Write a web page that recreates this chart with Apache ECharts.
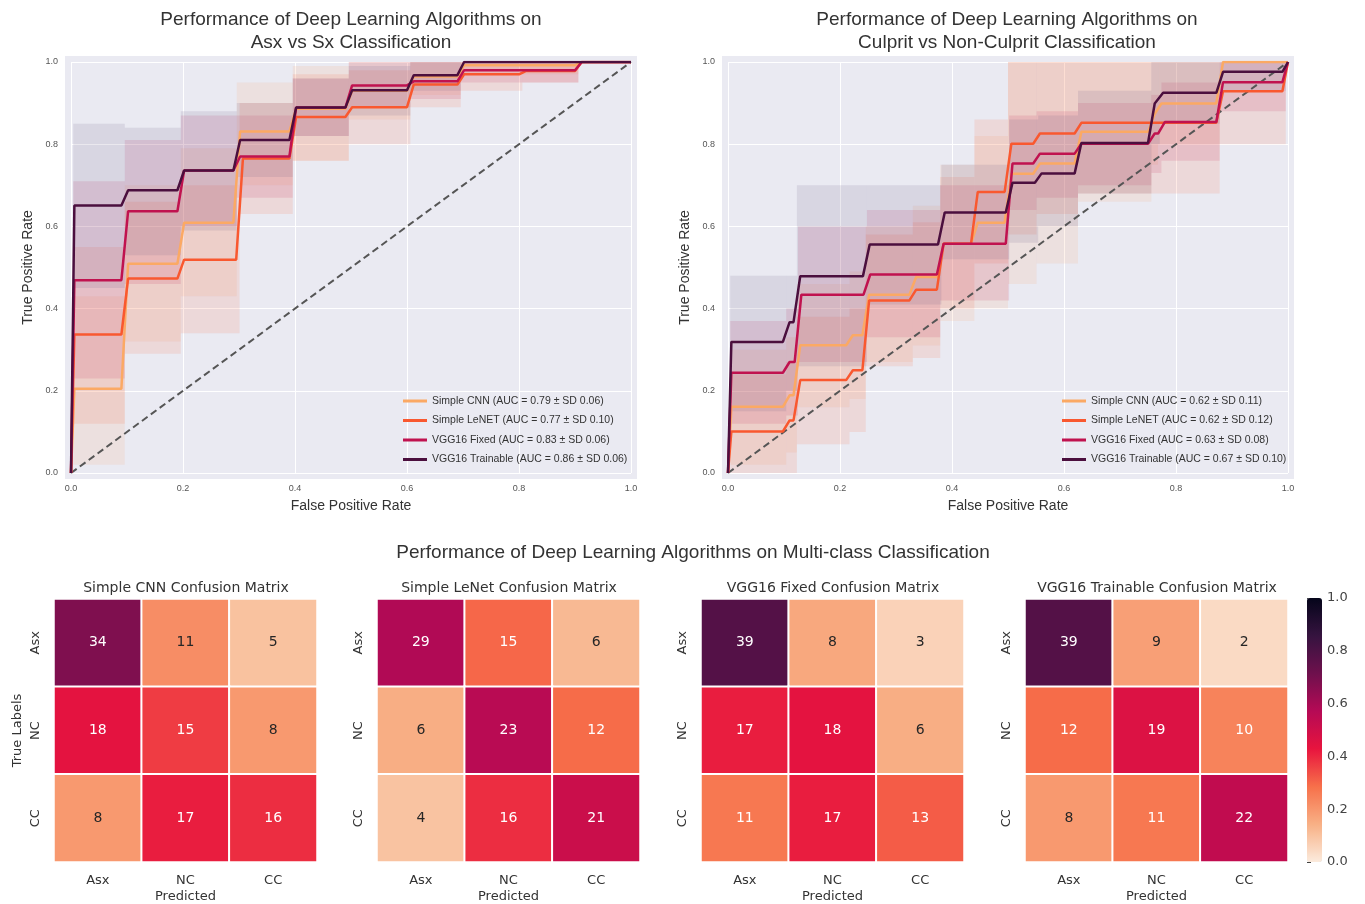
<!DOCTYPE html>
<html>
<head>
<meta charset="utf-8">
<title>Performance of Deep Learning Algorithms</title>
<script src="https://cdn.jsdelivr.net/npm/echarts/dist/echarts.min.js"></script>
<style>
  body { margin: 0; background: #fff; }
  #chart { width: 1365px; height: 904px; }
</style>
</head>
<body>
<div id="chart"></div>
<script>
// ROC curves, Asx vs Sx (step rises at x, level before/after each rise, band low/high per level)
const asxCnnRise = [0.09, 0.19, 0.29, 0.39, 0.49, 0.6, 0.69, 0.9]
const asxCnnLevel = [0.205, 0.509, 0.609, 0.831, 0.886, 0.93, 0.965, 0.992, 1.0]
const asxCnnLo = [0.02, 0.32, 0.43, 0.70, 0.76, 0.86, 0.92, 0.97, 1.0]
const asxCnnHi = [0.43, 0.70, 0.79, 0.95, 0.99, 1.0, 1.0, 1.0, 1.0]

const asxLenetRise = [0.09, 0.19, 0.295, 0.39, 0.49, 0.6, 0.69, 0.8, 0.9]
const asxLenetLevel = [0.337, 0.473, 0.519, 0.765, 0.866, 0.89, 0.945, 0.97, 0.978, 1.0]
const asxLenetLo = [0.12, 0.29, 0.34, 0.63, 0.76, 0.80, 0.89, 0.93, 0.95, 1.0]
const asxLenetHi = [0.55, 0.66, 0.70, 0.90, 0.97, 0.98, 1.0, 1.0, 1.0, 1.0]

const asxFixedRise = [0.09, 0.19, 0.29, 0.39, 0.49, 0.6, 0.69, 0.9]
const asxFixedLevel = [0.469, 0.637, 0.736, 0.77, 0.889, 0.943, 0.953, 0.98, 1.0]
const asxFixedLo = [0.23, 0.46, 0.60, 0.67, 0.82, 0.89, 0.91, 0.95, 1.0]
const asxFixedHi = [0.71, 0.81, 0.87, 0.87, 0.96, 1.0, 1.0, 1.0, 1.0]

const asxTrainRise = [0.09, 0.19, 0.29, 0.39, 0.49, 0.6, 0.69]
const asxTrainLevel = [0.651, 0.688, 0.736, 0.81, 0.889, 0.931, 0.968, 1.0]
const asxTrainLo = [0.45, 0.53, 0.59, 0.72, 0.82, 0.87, 0.93, 1.0]
const asxTrainHi = [0.85, 0.84, 0.88, 0.90, 0.96, 0.99, 1.0, 1.0]

// ROC curves, Culprit vs Non-Culprit
const culCnnRise = [0.098, 0.117, 0.211, 0.24, 0.324, 0.373, 0.434, 0.494, 0.545, 0.619, 0.75, 0.762, 0.872]
const culCnnLevel = [0.161, 0.189, 0.311, 0.335, 0.434, 0.477, 0.558, 0.609, 0.728, 0.753, 0.83, 0.874, 0.899, 1.0]
const culCnnLo = [0.02, 0.05, 0.16, 0.18, 0.27, 0.31, 0.37, 0.40, 0.46, 0.51, 0.66, 0.75, 0.80, 1.0]
const culCnnHi = [0.30, 0.33, 0.46, 0.49, 0.60, 0.65, 0.75, 0.82, 1.0, 1.0, 1.0, 1.0, 1.0, 1.0]

const culLenetRise = [0.098, 0.117, 0.211, 0.24, 0.324, 0.373, 0.434, 0.494, 0.545, 0.619, 0.872, 0.99]
const culLenetLevel = [0.101, 0.128, 0.226, 0.25, 0.42, 0.446, 0.558, 0.684, 0.801, 0.826, 0.852, 0.929, 1.0]
const culLenetLo = [0.0, 0.0, 0.07, 0.10, 0.26, 0.28, 0.40, 0.51, 0.58, 0.63, 0.68, 0.80, 1.0]
const culLenetHi = [0.24, 0.27, 0.38, 0.40, 0.58, 0.61, 0.72, 0.86, 1.0, 1.0, 1.0, 1.0, 1.0]

const culFixedRise = [0.098, 0.119, 0.242, 0.373, 0.496, 0.545, 0.619, 0.75, 0.768, 0.872, 0.99]
const culFixedLevel = [0.244, 0.27, 0.434, 0.483, 0.558, 0.753, 0.777, 0.801, 0.826, 0.854, 0.951, 1.0]
const culFixedLo = [0.12, 0.14, 0.27, 0.33, 0.42, 0.64, 0.67, 0.70, 0.73, 0.76, 0.88, 1.0]
const culFixedHi = [0.37, 0.40, 0.60, 0.64, 0.70, 0.87, 0.88, 0.90, 0.92, 0.95, 1.0, 1.0]

const culTrainRise = [0.098, 0.117, 0.241, 0.375, 0.496, 0.548, 0.619, 0.75, 0.765, 0.872, 0.99]
const culTrainLevel = [0.319, 0.367, 0.479, 0.556, 0.634, 0.706, 0.729, 0.803, 0.899, 0.925, 0.976, 1.0]
const culTrainLo = [0.15, 0.20, 0.26, 0.41, 0.52, 0.56, 0.60, 0.68, 0.80, 0.85, 0.93, 1.0]
const culTrainHi = [0.48, 0.48, 0.70, 0.70, 0.75, 0.86, 0.87, 0.93, 1.0, 1.0, 1.0, 1.0]

const asxLegend = [
  'Simple CNN (AUC = 0.79 ± SD 0.06)',
  'Simple LeNET (AUC = 0.77 ± SD 0.10)',
  'VGG16 Fixed (AUC = 0.83 ± SD 0.06)',
  'VGG16 Trainable (AUC = 0.86 ± SD 0.06)'
]
const culLegend = [
  'Simple CNN (AUC = 0.62 ± SD 0.11)',
  'Simple LeNET (AUC = 0.62 ± SD 0.12)',
  'VGG16 Fixed (AUC = 0.63 ± SD 0.08)',
  'VGG16 Trainable (AUC = 0.67 ± SD 0.10)'
]

// confusion matrices (rows = true label, cols = predicted)
const classLabels = ['Asx', 'NC', 'CC']
const matrixTitles = ['Simple CNN Confusion Matrix', 'Simple LeNet Confusion Matrix', 'VGG16 Fixed Confusion Matrix', 'VGG16 Trainable Confusion Matrix']
const cmCnn = [[34, 11, 5], [18, 15, 8], [8, 17, 16]]
const cmLenet = [[29, 15, 6], [6, 23, 12], [4, 16, 21]]
const cmFixed = [[39, 8, 3], [17, 18, 6], [11, 17, 13]]
const cmTrain = [[39, 9, 2], [12, 19, 10], [8, 11, 22]]

const lineColors = ['#fba964', '#f9582f', '#c0124f', '#4b0f3e']
const bandColors = ['#f9a070', '#f56848', '#c8285a', '#6a5a86']
const rocketR = ['#fbebdd', '#f8b085', '#f7704a', '#e8143e', '#b50a55', '#6e104d', '#35133f', '#05051a']
const sansRoc = '"Liberation Sans", Arial, sans-serif'
const sansHm = '"DejaVu Sans", sans-serif'

let myChart = echarts.init(document.getElementById('chart'))

function stepPoints(rise, level) {
  let pts = [[0, 0], [0.006, level[0]]]
  rise.forEach((r, i) => {
    pts.push([r, level[i]])
    pts.push([Math.min(1, r + 0.012), level[i + 1]])
  })
  pts.push([1, level[level.length - 1]])
  return pts
}

function bandRects(rise, lo, hi) {
  let edges = [0.004].concat(rise.map(r => Math.min(1, r + 0.006))).concat([1])
  return lo.map((l, i) => [edges[i], edges[i + 1], l, hi[i]])
}

let series = []

// heatmaps first (visualMap uses series 0-3)
;[cmCnn, cmLenet, cmFixed, cmTrain].forEach((m, k) => {
  let data = []
  m.forEach((row, r) => {
    let total = row.reduce((a, b) => a + b, 0)
    row.forEach((v, c) => {
      let frac = v / total
      data.push({ value: [c, r, frac, v], label: { color: frac > 0.23 ? '#ffffff' : '#262626' } })
    })
  })
  series.push({
    type: 'heatmap',
    xAxisIndex: 2 + k,
    yAxisIndex: 2 + k,
    data: data,
    itemStyle: { borderColor: '#fff', borderWidth: 2 },
    label: { show: true, formatter: p => p.value[3], fontSize: 14, fontFamily: sansHm },
    emphasis: { disabled: true }
  })
})

function addRoc(g, names, defs) {
  defs.forEach((d, i) => {
    series.push({
      type: 'custom',
      name: 'band' + g + i,
      xAxisIndex: g,
      yAxisIndex: g,
      silent: true,
      z: 1,
      encode: { x: [0, 1], y: [2, 3] },
      data: bandRects(d[0], d[2], d[3]),
      renderItem: (params, api) => {
        let a = api.coord([api.value(0), api.value(3)])
        let b = api.coord([api.value(1), api.value(2)])
        return {
          type: 'rect',
          shape: { x: a[0], y: a[1], width: b[0] - a[0], height: b[1] - a[1] },
          style: { fill: bandColors[i], opacity: 0.14 }
        }
      }
    })
  })
  // chance line
  series.push({
    type: 'line',
    name: 'chance' + g,
    xAxisIndex: g,
    yAxisIndex: g,
    data: [[0, 0], [1, 1]],
    symbol: 'none',
    silent: true,
    z: 2,
    lineStyle: { color: '#555', width: 2, type: [7, 4] }
  })
  defs.forEach((d, i) => {
    series.push({
      type: 'line',
      name: names[i],
      xAxisIndex: g,
      yAxisIndex: g,
      data: stepPoints(d[0], d[1]),
      symbol: 'none',
      z: 3 + i,
      color: lineColors[i],
      lineStyle: { color: lineColors[i], width: 2.5 }
    })
  })
}

addRoc(0, asxLegend, [
  [asxCnnRise, asxCnnLevel, asxCnnLo, asxCnnHi],
  [asxLenetRise, asxLenetLevel, asxLenetLo, asxLenetHi],
  [asxFixedRise, asxFixedLevel, asxFixedLo, asxFixedHi],
  [asxTrainRise, asxTrainLevel, asxTrainLo, asxTrainHi]
])
addRoc(1, culLegend, [
  [culCnnRise, culCnnLevel, culCnnLo, culCnnHi],
  [culLenetRise, culLenetLevel, culLenetLo, culLenetHi],
  [culFixedRise, culFixedLevel, culFixedLo, culFixedHi],
  [culTrainRise, culTrainLevel, culTrainLo, culTrainHi]
])

// grids: 0,1 roc; 2-5 heatmaps; 6 colorbar axis
const hmLeft = [54, 377, 701, 1025]
let grids = [
  { left: 71, top: 62, width: 560, height: 411 },
  { left: 728, top: 62, width: 560, height: 411 }
]
hmLeft.forEach(l => grids.push({ left: l, top: 599, width: 263, height: 263 }))
grids.push({ left: 1307, top: 598, width: 15, height: 264 })
grids.forEach(g => { g.outerBoundsMode = 'none' })

let xAxes = []
let yAxes = []
;[0, 1].forEach(g => {
  xAxes.push({
    gridIndex: g, type: 'value', min: 0, max: 1, interval: 0.2,
    name: 'False Positive Rate', nameLocation: 'middle', nameGap: 26,
    nameTextStyle: { fontSize: 14, color: '#333', fontFamily: sansRoc },
    axisLine: { show: false }, axisTick: { show: false },
    axisLabel: { fontSize: 9, color: '#555', margin: 11, fontFamily: sansRoc, formatter: v => v.toFixed(1) },
    splitLine: { lineStyle: { color: '#fff', width: 1 } }
  })
  yAxes.push({
    gridIndex: g, type: 'value', min: 0, max: 1, interval: 0.2,
    name: 'True Positive Rate', nameLocation: 'middle', nameGap: 36,
    nameTextStyle: { fontSize: 14, color: '#333', fontFamily: sansRoc },
    axisLine: { show: false }, axisTick: { show: false },
    axisLabel: { fontSize: 9, color: '#555', margin: 13, fontFamily: sansRoc, formatter: v => v.toFixed(1) },
    splitLine: { lineStyle: { color: '#fff', width: 1 } }
  })
})
hmLeft.forEach((l, k) => {
  xAxes.push({
    gridIndex: 2 + k, type: 'category', data: classLabels,
    name: 'Predicted', nameLocation: 'middle', nameGap: 28,
    nameTextStyle: { fontSize: 13, color: '#333', fontFamily: sansHm },
    axisLine: { show: false }, axisTick: { show: false }, splitLine: { show: false },
    axisLabel: { fontSize: 13, color: '#333', margin: 12, fontFamily: sansHm }
  })
  yAxes.push({
    gridIndex: 2 + k, type: 'category', data: classLabels, inverse: true,
    name: k === 0 ? 'True Labels' : '', nameLocation: 'middle', nameGap: 30,
    nameTextStyle: { fontSize: 13, color: '#333', fontFamily: sansHm },
    axisLine: { show: false }, axisTick: { show: false }, splitLine: { show: false },
    axisLabel: { fontSize: 13, color: '#333', margin: 12, rotate: 90, fontFamily: sansHm }
  })
})
xAxes.push({ gridIndex: 6, type: 'value', show: false, min: 0, max: 1 })
yAxes.push({
  gridIndex: 6, type: 'value', min: 0, max: 1, interval: 0.2, position: 'right',
  axisLine: { show: false }, splitLine: { show: false },
  axisTick: { show: true, length: 4, lineStyle: { color: '#444' } },
  axisLabel: { fontSize: 13, color: '#444', margin: 5, fontFamily: sansHm, formatter: v => v.toFixed(1) }
})

function txt(x, y, text, size, font) {
  return {
    type: 'text', x: x, y: y, silent: true,
    style: { text: text, fill: '#333', font: size + 'px ' + font, textAlign: 'center', textVerticalAlign: 'middle' }
  }
}

let graphics = [
  // darkgrid backgrounds, a little wider than the 0..1 range
  { type: 'rect', z: -100, silent: true, shape: { x: 65, y: 56, width: 572, height: 423 }, style: { fill: '#eaeaf2' } },
  { type: 'rect', z: -100, silent: true, shape: { x: 722, y: 56, width: 572, height: 423 }, style: { fill: '#eaeaf2' } },
  txt(351, 20, 'Performance of Deep Learning Algorithms on', 19, sansRoc),
  txt(351, 43, 'Asx vs Sx Classification', 19, sansRoc),
  txt(1007, 20, 'Performance of Deep Learning Algorithms on', 19, sansRoc),
  txt(1007, 43, 'Culprit vs Non-Culprit Classification', 19, sansRoc),
  txt(693, 553, 'Performance of Deep Learning Algorithms on Multi-class Classification', 19, sansRoc)
]
hmLeft.forEach((l, k) => graphics.push(txt(l + 132, 588, matrixTitles[k], 14, sansHm)))

function legendFor(names, left) {
  return {
    data: names, left: left, top: 395, orient: 'vertical', padding: 0,
    icon: 'rect', itemWidth: 24, itemHeight: 3, itemGap: 7.5,
    textStyle: { fontSize: 10.5, color: '#333', fontFamily: sansRoc, lineHeight: 12 },
    selectedMode: false
  }
}

myChart.setOption({
  animation: false,
  backgroundColor: '#fff',
  grid: grids,
  xAxis: xAxes,
  yAxis: yAxes,
  legend: [legendFor(asxLegend, 403), legendFor(culLegend, 1062)],
  visualMap: {
    type: 'continuous', min: 0, max: 1, dimension: 2, seriesIndex: [0, 1, 2, 3],
    inRange: { color: rocketR },
    left: 1307, top: 598, itemWidth: 15, itemHeight: 264, padding: 0,
    calculable: false, hoverLink: false
  },
  graphic: graphics,
  series: series
})

window.onresize = function () {
  myChart.resize()
}
</script>
</body>
</html>
